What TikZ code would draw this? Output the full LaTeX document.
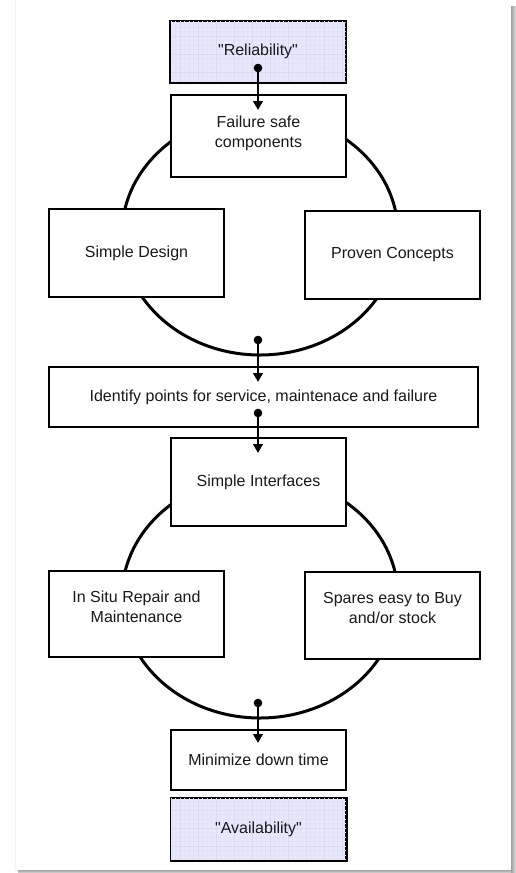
\documentclass[tikz,border=0pt]{standalone}
\usepackage{fontspec}
\setmainfont{Liberation Sans}[Ligatures=TeXOff]
\usetikzlibrary{arrows.meta}
\definecolor{lav}{RGB}{232,232,252}
\definecolor{lavgrid}{RGB}{218,218,247}
\definecolor{lavfine}{RGB}{226,226,251}
\definecolor{txt}{RGB}{25,25,25}
\tikzset{
  box/.style={draw=black, line width=1.5pt, fill=white, minimum width=175pt, inner sep=0pt, text=txt, font=\fontsize{16}{20}\selectfont, align=center},
  gridbox/.style={box, fill=lav},
  lbl/.style={inner sep=0pt, text=txt, font=\fontsize{16}{20}\selectfont, align=center},
  ring/.style={draw=black, line width=3pt},
  conn/.style={draw=black, line width=2.3pt, -{Triangle[length=9pt,width=9.5pt]}},
  dotmark/.style={fill=black},
}
\begin{document}
\begin{tikzpicture}[x=1pt,y=-1pt]
\useasboundingbox (0,0) rectangle (516,873);
% page and shadow
\fill[white] (0,0) rectangle (516,873);
\shade[left color=gray!75, right color=gray!25] (511,6) rectangle (516,873);
\shade[top color=gray!70, bottom color=gray!30] (18,870) rectangle (511,873);
\draw[gray!10, line width=0.6pt] (15,0) -- (15,870);

% rings
\draw[ring] (260,234) ellipse [x radius=138, y radius=121];
\draw[ring] (260,597) ellipse [x radius=138, y radius=121];

% boxes
\node[gridbox, minimum height=61pt] (rel) at (258,51.5) {};
\begin{scope}
  \clip (170.5,21) rectangle (345.5,82);
  \draw[lavfine, line width=0.3pt, step=4.5pt] (170,20) grid (346,83);
  \draw[lavgrid, line width=0.5pt, step=18pt] (170,20) grid (346,83);
\end{scope}
\draw[line width=1.5pt] (rel.south west) rectangle (rel.north east);
\node[lbl] (relT) at (258,51) {"Reliability"};

\node[box, minimum height=82pt] (fail) at (258.5,136) {};
\node[lbl] (failT) at (258.5,133) {Failure safe\\components};

\node[box, minimum height=88pt] (sd) at (136.5,253) {Simple Design};
\node[box, minimum height=88pt] (pc) at (392.5,255) {Proven Concepts};

\node[box, minimum width=429pt, minimum height=60pt] (ident) at (263.5,397) {Identify points for service, maintenace and failure};

\node[box, minimum height=88pt] (si) at (258.5,482) {Simple Interfaces};

\node[box, minimum height=86pt] (isr) at (136.5,614) {};
\node[lbl] (isrT) at (136.5,607) {In Situ Repair and\\Maintenance};
\node[box, minimum height=87pt] (sp) at (392.5,615.5) {};
\node[lbl] (spT) at (392.5,608) {Spares easy to Buy\\and/or stock};

\node[box, minimum height=60pt] (min) at (258.5,760) {Minimize down time};

\node[gridbox, minimum height=62pt] (av) at (258.5,829) {};
\begin{scope}
  \clip (171,798) rectangle (346,860);
  \draw[lavfine, line width=0.3pt, step=4.5pt] (170,797) grid (347,861);
  \draw[lavgrid, line width=0.5pt, step=18pt] (170,797) grid (347,861);
\end{scope}
\draw[line width=1.5pt] (av.south west) rectangle (av.north east);
\node[lbl] (avT) at (258.5,829) {"Availability"};

% connectors
\coordinate (d1) at (258,68);  \coordinate (t1) at (258,110);
\coordinate (d2) at (258,340); \coordinate (t2) at (258,382);
\coordinate (d3) at (258,413); \coordinate (t3) at (258,453);
\coordinate (d4) at (258,703); \coordinate (t4) at (258,743);
\foreach \i in {1,2,3,4}{
  \draw[conn] (d\i) -- (t\i);
  \fill[dotmark] (d\i) circle (4.3pt);
}
\end{tikzpicture}
\end{document}
